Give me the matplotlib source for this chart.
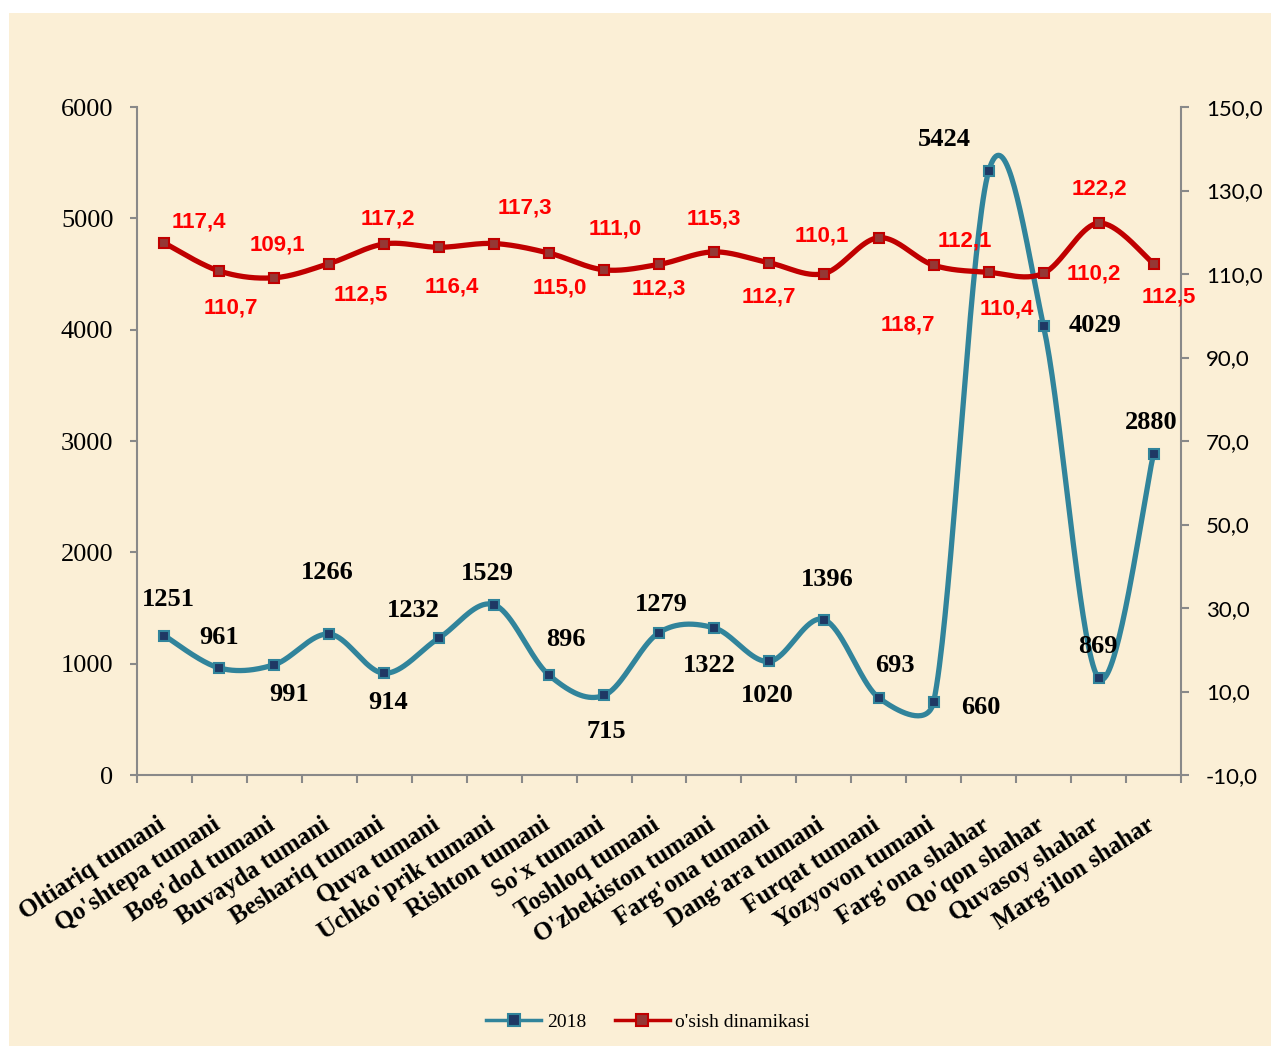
import numpy as np
import matplotlib
matplotlib.use('Agg')
import matplotlib.pyplot as plt
from matplotlib.patches import Rectangle
from matplotlib.lines import Line2D
from matplotlib.ticker import FuncFormatter

categories = ["Oltiariq tumani", "Qo'shtepa tumani", "Bog'dod tumani", "Buvayda tumani",
              "Beshariq tumani", "Quva tumani", "Uchko'prik tumani", "Rishton tumani",
              "So'x tumani", "Toshloq tumani", "O'zbekiston tumani", "Farg'ona tumani",
              "Dang'ara tumani", "Furqat tumani", "Yozyovon tumani", "Farg'ona shahar",
              "Qo'qon shahar", "Quvasoy shahar", "Marg'ilon shahar"]
values_2018 = [1251, 961, 991, 1266, 914, 1232, 1529, 896, 715, 1279, 1322, 1020,
               1396, 693, 660, 5424, 4029, 869, 2880]
growth = [117.4, 110.7, 109.1, 112.5, 117.2, 116.4, 117.3, 115.0, 111.0, 112.3, 115.3,
          112.7, 110.1, 118.7, 112.1, 110.4, 110.2, 122.2, 112.5]

# label offsets in pixels (dx, dy downwards) as placed in the original
blue_offsets = [(4, -36), (0, -31), (15, 30), (-2, -62), (4, 29), (-26, -27), (-7, -31),
                (17, -36), (2, 36), (2, -28), (-5, 38), (-2, 34), (3, -40), (16, -32),
                (47, 6), (-44, -32), (51, -1), (-1, -32), (-2, -32)]
red_offsets = [(34, -21), (11, 37), (3, -33), (31, 31), (4, -25), (13, 40), (31, -36),
               (11, 35), (11, -41), (0, 25), (0, -33), (0, 34), (-2, -38), (29, 87),
               (31, -24), (18, 37), (50, 1), (1, -34), (15, 33)]

BLUE = '#31849B'
BLUE_FILL = '#1F3864'
RED = '#C00000'
RED_FILL = '#953735'
GREY = '#898989'
SERIF = 'Liberation Serif'
SANS = 'Lato'


def smooth(ax, xs, ys, n=40):
    # excel-like bezier smoothing, done in pixel space
    p = ax.transData.transform(np.column_stack([xs, ys]))
    out = [p[0]]
    for i in range(len(p) - 1):
        a = p[i - 1] if i > 0 else p[i]
        b, c = p[i], p[i + 1]
        d = p[i + 2] if i + 2 < len(p) else p[i + 1]
        seg = np.hypot(*(c - b))
        t1 = (c - a) / 6
        t2 = (d - b) / 6
        for t in (t1, t2):
            m = np.hypot(*t)
            if m > 0.5 * seg:
                t *= 0.5 * seg / m
        c1 = b + t1
        c2 = c - t2
        tt = np.linspace(0, 1, n)[1:, None]
        pts = ((1 - tt) ** 3) * b + 3 * ((1 - tt) ** 2) * tt * c1 + 3 * (1 - tt) * tt ** 2 * c2 + tt ** 3 * c
        out.extend(pts)
    out = ax.transData.inverted().transform(np.array(out))
    return out[:, 0], out[:, 1]


fig = plt.figure(figsize=(12.71, 10.46), dpi=100)
fig.patch.set_facecolor('white')
fig.patches.append(Rectangle((9 / 1271, 0), 1262 / 1271, 1033 / 1046, transform=fig.transFigure,
                             facecolor='#FBEFD6', edgecolor='none', zorder=-10))

ax = fig.add_axes([137 / 1271, 1 - 775 / 1046, 1044 / 1271, 668 / 1046])
ax2 = ax.twinx()
ax.set_facecolor('none')
ax2.set_facecolor('none')

x = np.arange(len(categories))
ax.set_xlim(-0.5, len(categories) - 0.5)
ax.set_ylim(0, 6000)
ax2.set_ylim(-10, 150)

# 2018 series
sx, sy = smooth(ax, x, values_2018)
ax.plot(sx, sy, color=BLUE, lw=3.8, solid_capstyle='round', zorder=3)
ax.plot(x, values_2018, ls='none', marker='s', ms=7.5, mfc=BLUE_FILL, mec=BLUE, mew=1.5, zorder=4)
for xi, v, (dx, dy) in zip(x, values_2018, blue_offsets):
    ax.annotate(str(v), (xi, v), xytext=(dx, -dy), textcoords='offset pixels',
                ha='center', va='center', fontsize=19, fontweight='bold', family=SERIF, color='black')

# growth series
rx, ry = smooth(ax2, x, growth)
ax2.plot(rx, ry, color=RED, lw=3.8, solid_capstyle='round', zorder=3)
ax2.plot(x, growth, ls='none', marker='s', ms=7.5, mfc=RED_FILL, mec=RED, mew=1.5, zorder=4)
for xi, v, (dx, dy) in zip(x, growth, red_offsets):
    ax2.annotate(f"{v:.1f}".replace('.', ','), (xi, v), xytext=(dx, -dy), textcoords='offset pixels',
                 ha='center', va='center', fontsize=16, fontweight='bold',
                 family='Liberation Sans', color='#FF0000')

# axes styling
for s in ['top', 'right']:
    ax.spines[s].set_visible(False)
for s in ['top', 'left', 'bottom']:
    ax2.spines[s].set_visible(False)
ax.spines['left'].set_color(GREY)
ax.spines['bottom'].set_color(GREY)
ax2.spines['right'].set_color(GREY)
for sp in [ax.spines['left'], ax.spines['bottom'], ax2.spines['right']]:
    sp.set_linewidth(1.5)

ax.set_yticks(np.arange(0, 6001, 1000))
ax.tick_params(axis='y', direction='out', length=5, width=1.5, color=GREY, pad=12,
               labelsize=19, labelfontfamily=SERIF)

ax2.set_yticks(np.arange(-10, 151, 20))
ax2.yaxis.set_major_formatter(FuncFormatter(lambda v, _: f"{v:.1f}".replace('.', ',')))
ax2.tick_params(axis='y', direction='out', length=6, width=1.5, color=GREY, pad=12,
                labelsize=16, labelfontfamily=SANS)

ax.set_xticks(np.arange(-0.5, len(categories)), minor=True)
ax.tick_params(axis='x', which='minor', direction='out', length=6, width=1.5, color=GREY)
ax.set_xticks([])
for xi, name in zip(x, categories):
    ax.annotate(name, (xi, 0), xycoords=('data', 'axes fraction'), xytext=(-8, -38),
                textcoords='offset pixels', ha='right', va='top', rotation=33,
                rotation_mode='anchor', fontsize=18, fontweight='bold', family=SERIF)

handles = [Line2D([], [], color=BLUE, lw=2.5, marker='s', ms=8, mfc=BLUE_FILL, mec=BLUE, mew=1.5),
           Line2D([], [], color=RED, lw=2.5, marker='s', ms=8, mfc=RED_FILL, mec=RED, mew=1.5)]
fig.legend(handles, ['2018', "o'sish dinamikasi"], loc='center', bbox_to_anchor=(0.51, 1 - 1022 / 1046),
           ncol=2, frameon=False, prop={'family': SERIF, 'size': 14}, handlelength=2.8,
           columnspacing=1.5, handletextpad=0.3)

fig.savefig('out.png', dpi=100, facecolor=fig.get_facecolor())
